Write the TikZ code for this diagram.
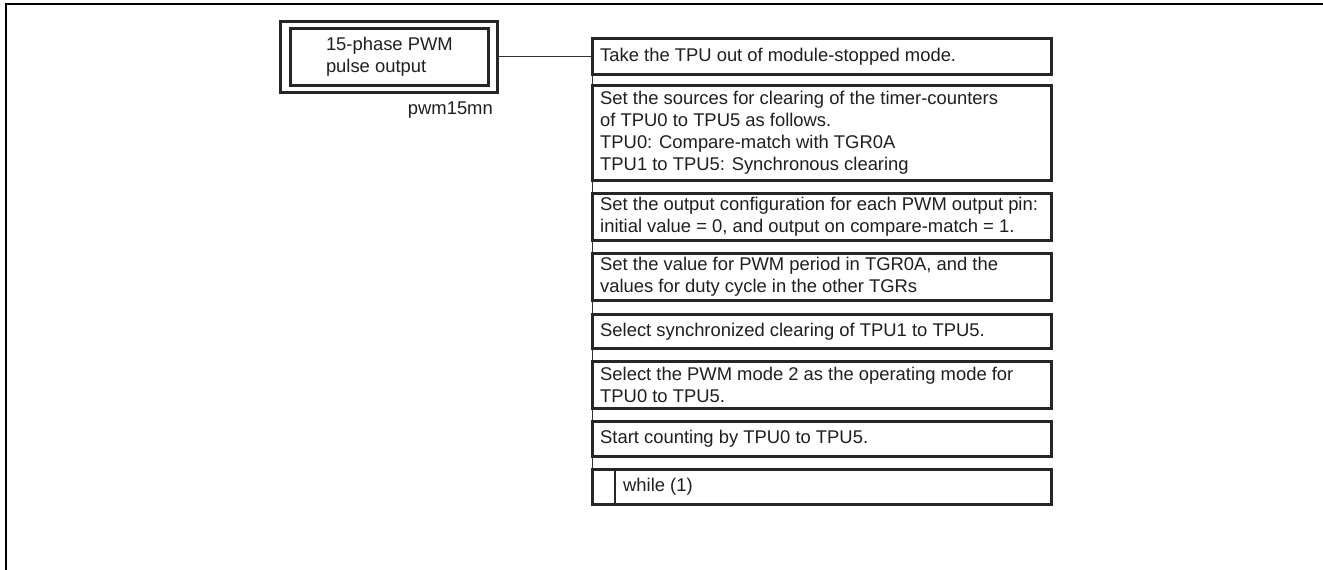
\documentclass[tikz,border=0pt]{standalone}
\usepackage{fontspec}
\setmainfont{Liberation Sans}
\begin{document}
\begin{tikzpicture}[x=1pt,y=-1pt,
  ink/.style={black!88},
  stepbox/.style={draw=black!85, line width=2.5pt, fill=white, inner sep=0pt,
    minimum width=459pt, anchor=north west},
  steptext/.style={anchor=west, align=left, inner sep=0pt, text=black!88,
    font=\fontsize{18.4}{22}\selectfont},
  titlebox/.style={draw=black!85, line width=2.8pt, inner sep=0pt},
  link/.style={draw=black!80, line width=0.9pt}
]
\useasboundingbox (0,0) rectangle (1323,570);

% page frame (top and left edges)
\draw[line width=1.7pt] (1323,4) -- (6,4) -- (6,570);

% module title
\node[titlebox, minimum width=217pt, minimum height=71pt, anchor=north west] (outer) at (279,20) {};
\node[titlebox, minimum width=198pt, minimum height=57pt, anchor=north west] (inner) at (289,27) {};
\node[steptext, anchor=center, font=\fontsize{18.4}{21.7}\selectfont] (title) at (inner.center) {15-phase PWM\\pulse output};
\node[steptext, anchor=east] (fname) at (493,110) {pwm15mn};

% processing steps
\node[stepbox, minimum height=36pt] (b1) at (591,37) {};
\node[stepbox, minimum height=95pt] (b2) at (591,84) {};
\node[stepbox, minimum height=47pt] (b3) at (591,192) {};
\node[stepbox, minimum height=47pt] (b4) at (591,252) {};
\node[stepbox, minimum height=34pt] (b5) at (591,313) {};
\node[stepbox, minimum height=47pt] (b6) at (591,360) {};
\node[stepbox, minimum height=35pt] (b7) at (591,420) {};
\node[stepbox, minimum height=35pt] (b8) at (591,468) {};
\draw[draw=black!85, line width=2.5pt] (b8.north west) ++(24,0) coordinate (d1) -- (d1 |- b8.south) coordinate (d2);

\node[steptext] (t1) at ([xshift=9pt]b1.west) {Take the TPU out of module-stopped mode.};
\node[steptext] (t2) at ([xshift=9pt]b2.west) {Set the sources for clearing of the timer-counters\\of TPU0 to TPU5 as follows.\\TPU0: Compare-match with TGR0A\\TPU1 to TPU5: Synchronous clearing};
\node[steptext] (t3) at ([xshift=9pt]b3.west) {Set the output configuration for each PWM output pin:\\initial value = 0, and output on compare-match = 1.};
\node[steptext] (t4) at ([xshift=9pt]b4.west) {Set the value for PWM period in TGR0A, and the\\values for duty cycle in the other TGRs};
\node[steptext] (t5) at ([xshift=9pt]b5.west) {Select synchronized clearing of TPU1 to TPU5.};
\node[steptext] (t6) at ([xshift=9pt]b6.west) {Select the PWM mode 2 as the operating mode for\\TPU0 to TPU5.};
\node[steptext] (t7) at ([xshift=9pt]b7.west) {Start counting by TPU0 to TPU5.};
\node[steptext] (t8) at ([xshift=32pt]b8.west) {while (1)};

% connectors
\draw[link] (outer.east) -- (outer.east -| b1.west);
\foreach \a/\b in {b1/b2,b2/b3,b3/b4,b4/b5,b5/b6,b6/b7,b7/b8}
  \draw[link] ([xshift=1.5pt]\a.south west) -- ([xshift=1.5pt]\b.north west);
\end{tikzpicture}
\end{document}
